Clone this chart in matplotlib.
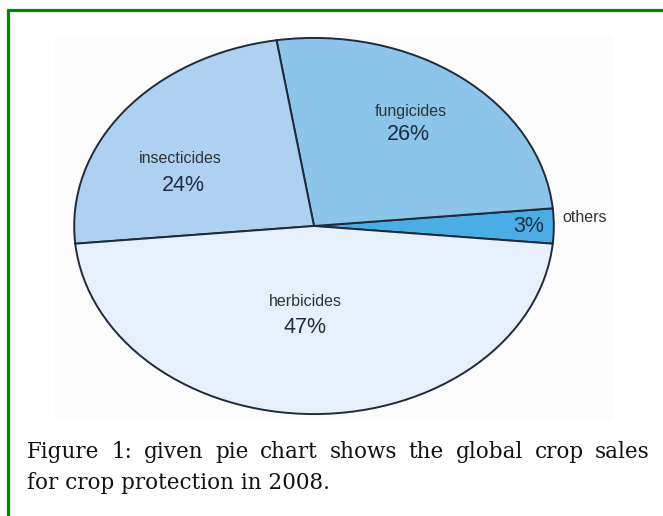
import matplotlib
matplotlib.use('Agg')
import matplotlib.pyplot as plt
from matplotlib.lines import Line2D
from matplotlib.patches import Rectangle

W, H = 663, 516

# data (counter-clockwise from 'others')
labels = ['others', 'fungicides', 'insecticides', 'herbicides']
shares = [3, 26, 24, 47]
colors = ['#4aade6', '#8dc4ea', '#aed1f1', '#e7f0fa']

caption_1 = "Figure 1: given pie chart shows the global crop sales"
caption_2 = "for crop protection in 2008."

fig = plt.figure(figsize=(W / 100, H / 100), dpi=100)
fig.patch.set_facecolor('white')

def px(x, y):
    # pixel (from top-left) -> figure fraction
    return x / W, 1 - y / H

# faint background of the pasted picture
fig.patches.append(Rectangle(px(55, 420), (613 - 55) / W, (420 - 35) / H,
                             transform=fig.transFigure, facecolor='#fcfcfc',
                             edgecolor='none', zorder=-2))

# green frame (only top and left visible)
fig.lines.append(Line2D([7 / W, 1], [1 - 10 / H, 1 - 10 / H], transform=fig.transFigure,
                        color='#058305', lw=2.3, solid_capstyle='butt'))
fig.lines.append(Line2D([8 / W, 8 / W], [0, 1 - 9 / H], transform=fig.transFigure,
                        color='#058305', lw=2.3, solid_capstyle='butt'))

# pie, stretched into an ellipse
left, bottom = px(73, 415)
ax = fig.add_axes([left, bottom, (555 - 73) / W, (415 - 37) / H])
ax.set_zorder(1)
ax.patch.set_alpha(0)
wedges, _ = ax.pie(shares, colors=colors, startangle=-5.4, counterclock=True,
                   radius=1, wedgeprops=dict(edgecolor='#1f2b3a', linewidth=1.4))
ax.set_aspect('auto')
ax.set_xlim(-1.005, 1.005)
ax.set_ylim(-1.005, 1.005)
ax.axis('off')

name_kw = dict(fontsize=11.5, color='#2f3438', ha='center', va='center', family='Liberation Sans')
pct_kw = dict(fontsize=15.5, color='#1f2d44', ha='center', va='center', family='Liberation Sans')

# label placement per slice (name position, percent position)
label_pos = {
    'insecticides': ((-0.556, 0.360), (-0.544, 0.217)),
    'fungicides': ((0.402, 0.608), (0.394, 0.487)),
    'herbicides': ((-0.037, -0.402), (-0.037, -0.540)),
}
for name, share in zip(labels, shares):
    if name in label_pos:
        (nx, ny), (qx, qy) = label_pos[name]
        ax.text(nx, ny, name, **name_kw)
        ax.text(qx, qy, f"{share}%", **pct_kw)
    else:
        ax.text(0.895, 0.0, f"{share}%", **pct_kw)
        ax.text(1.035, 0.045, name, fontsize=11.5, color='#2f3438', ha='left', va='center',
                family='Liberation Sans', clip_on=False)

# caption, first line justified
cap_kw = dict(fontsize=15.5, color='#111111', family='DejaVu Serif', va='baseline', ha='left')
fig.canvas.draw()
renderer = fig.canvas.get_renderer()
words = caption_1.split(' ')
texts = []
widths = []
for w in words:
    t = fig.text(0, 0, w, **cap_kw)
    widths.append(t.get_window_extent(renderer).width)
    texts.append(t)
x0, x1 = 27, 650
gap = (x1 - x0 - sum(widths)) / (len(words) - 1)
x = x0
for t, wd in zip(texts, widths):
    t.set_position(px(x, 458))
    x += wd + gap
fig.text(*px(27, 489), caption_2, **cap_kw)

fig.savefig('out.png', dpi=100)
